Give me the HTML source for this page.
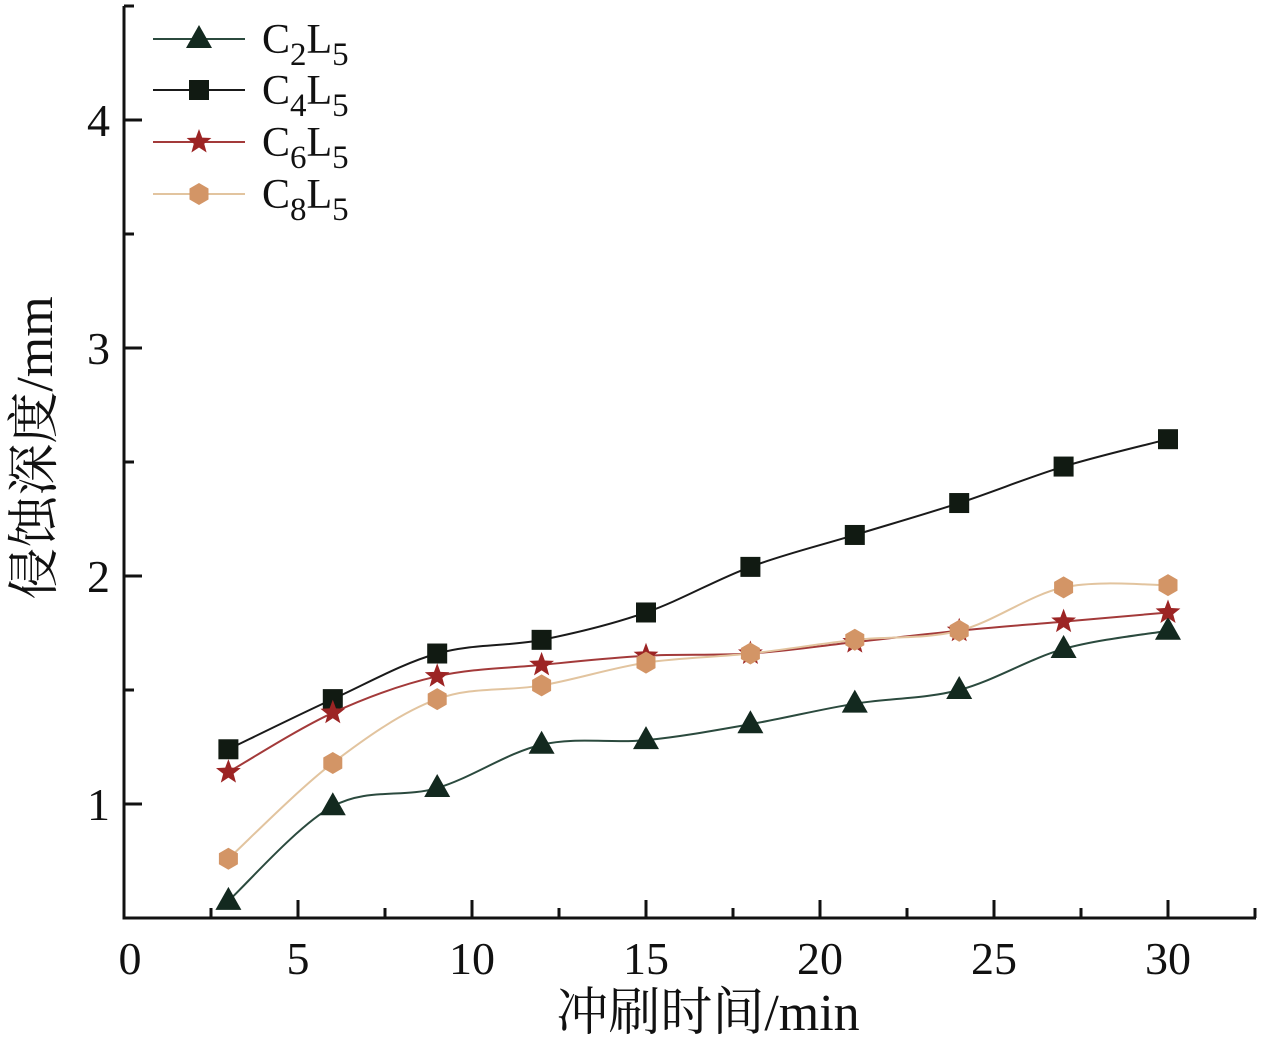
<!DOCTYPE html>
<html><head><meta charset="utf-8"><style>
html,body{margin:0;padding:0;background:#fff;}
svg text{font-family:"Liberation Serif","Noto Serif CJK SC",serif;fill:#111;}
</style></head><body>
<svg width="1265" height="1049" viewBox="0 0 1265 1049" xmlns="http://www.w3.org/2000/svg">
<g id="plot"></g>
<text x="708" y="1030" font-size="52" text-anchor="middle">冲刷时间/min</text>
<text transform="translate(52,448) rotate(-90)" font-size="52" text-anchor="middle">侵蚀深度/mm</text>
</svg>
<script>
const xVals=[3,6,9,12,15,18,21,24,27,30];
const c2=[0.575,0.99,1.07,1.26,1.28,1.35,1.44,1.50,1.68,1.76];
const c4=[1.24,1.46,1.66,1.72,1.84,2.04,2.18,2.32,2.48,2.60];
const c6=[1.14,1.40,1.56,1.61,1.65,1.66,1.71,1.76,1.80,1.84];
const c8=[0.76,1.18,1.46,1.52,1.62,1.66,1.72,1.76,1.95,1.96];
const xTicks=[0,5,10,15,20,25,30];
const yTicks=[1,2,3,4];
const NS='http://www.w3.org/2000/svg';
const X0=124,Y0=918;
function sx(v){return X0+v*34.8;}
function sy(v){return Y0-(v-0.5)*228;}
const g=document.getElementById('plot');
function mk(t,a){const e=document.createElementNS(NS,t);for(const k in a)e.setAttribute(k,a[k]);g.appendChild(e);return e;}
let e=mk('path',{d:`M${X0} 6 L${X0} ${Y0} L1256 ${Y0}`,fill:'none',stroke:'#111','stroke-width':3});


for(let v=0;v<=32.5;v+=2.5){const major=v%5===0;const t=mk('line',{x1:sx(v),x2:sx(v),y1:Y0,y2:Y0-(major?18:10),stroke:'#111','stroke-width':3});

}
for(let v=0.5;v<=4.5;v+=0.5){const major=v%1===0;const t=mk('line',{x1:X0,x2:X0+(major?18:10),y1:sy(v),y2:sy(v),stroke:'#111','stroke-width':3});

}
xTicks.forEach(v=>{const t=mk('text',{x:sx(v)+(v===0?6:0),y:974,'font-size':46,'text-anchor':'middle'});t.textContent=v;

});
yTicks.forEach(v=>{const t=mk('text',{x:110,y:sy(v)+16,'font-size':46,'text-anchor':'end'});t.textContent=v;

});
function spline(ys){const p=xVals.map((x,i)=>[sx(x),sy(ys[i])]);let d=`M${p[0][0]} ${p[0][1]}`;
for(let i=0;i<p.length-1;i++){const a=p[Math.max(0,i-1)],b=p[i],c=p[i+1],n=p[Math.min(p.length-1,i+2)];
d+=` C${b[0]+(c[0]-a[0])/6} ${b[1]+(c[1]-a[1])/6} ${c[0]-(n[0]-b[0])/6} ${c[1]-(n[1]-b[1])/6} ${c[0]} ${c[1]}`;}return d;}
function marker(type,x,y){let el;
if(type==='tri')el=mk('polygon',{points:`${x} ${y-14} ${x-13} ${y+9} ${x+13} ${y+9}`,fill:'#13291f'});
else if(type==='sq')el=mk('rect',{x:x-10,y:y-10,width:20,height:20,fill:'#111a12'});
else if(type==='star'){let pts=[];for(let k=0;k<10;k++){const r=k%2?5.5:13,a=-Math.PI/2+k*Math.PI/5;pts.push((x+r*Math.cos(a)).toFixed(1)+' '+(y+r*Math.sin(a)).toFixed(1));}el=mk('polygon',{points:pts.join(' '),fill:'#9c2424'});}
else{let pts=[];for(let k=0;k<6;k++){const a=-Math.PI/2+k*Math.PI/3;pts.push((x+11*Math.cos(a)).toFixed(1)+' '+(y+11*Math.sin(a)).toFixed(1));}el=mk('polygon',{points:pts.join(' '),fill:'#d39566'});}
return el;}
const series=[
{name:'c2',ys:c2,line:'#2b4a3e',w:2,m:'tri',sub:'2',ly:39},
{name:'c4',ys:c4,line:'#1a1a1a',w:2,m:'sq',sub:'4',ly:90},
{name:'c6',ys:c6,line:'#a33a3a',w:2,m:'star',sub:'6',ly:142},
{name:'c8',ys:c8,line:'#e2c49f',w:2,m:'hex',sub:'8',ly:194}];
series.forEach(s=>{const l=mk('path',{d:spline(s.ys),fill:'none',stroke:s.line,'stroke-width':s.w});


s.ys.forEach((v,i)=>{const m=marker(s.m,sx(xVals[i]),sy(v));

});
const ll=mk('line',{x1:153,x2:245,y1:s.ly,y2:s.ly,stroke:s.line,'stroke-width':2});


const lm=marker(s.m,199,s.ly);


const t=mk('text',{x:262,y:s.ly+14,'font-size':42});
t.innerHTML=`C<tspan font-size="33" dy="12">${s.sub}</tspan><tspan dy="-12">L</tspan><tspan font-size="33" dy="12">5</tspan>`;

});
</script>
</body></html>
